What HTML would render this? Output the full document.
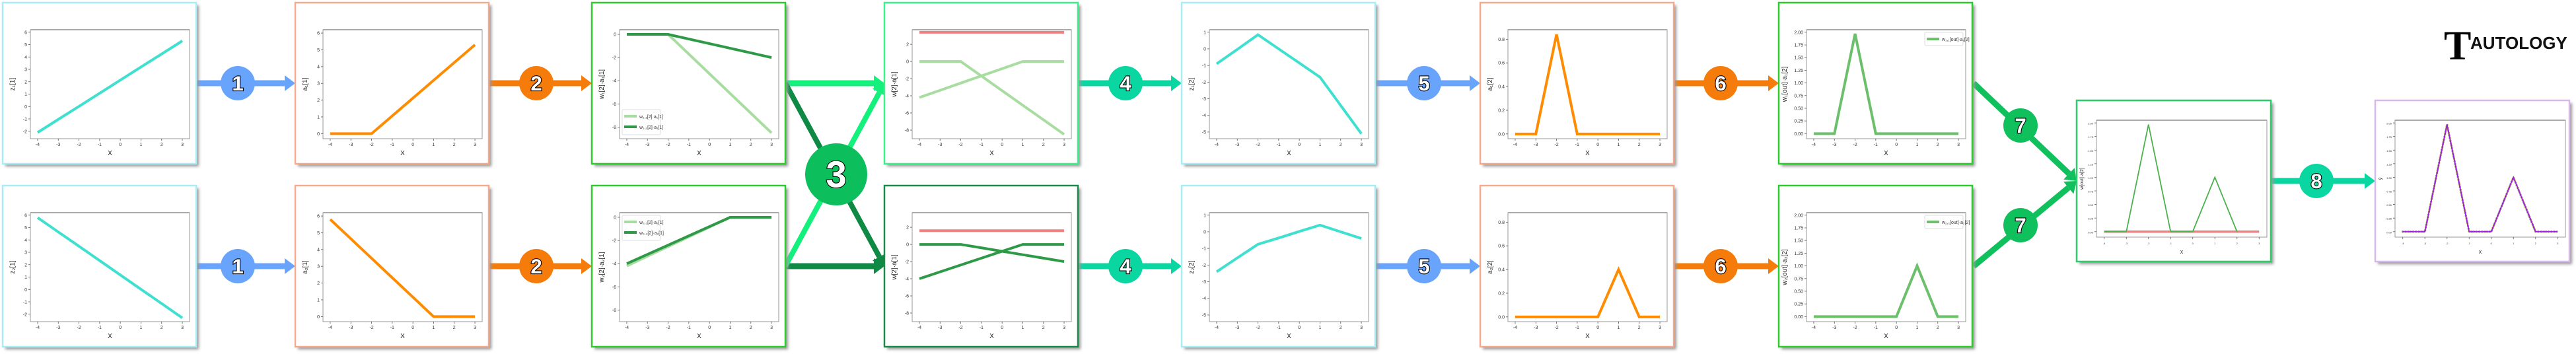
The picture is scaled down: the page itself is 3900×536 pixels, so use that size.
<!DOCTYPE html>
<html><head><meta charset="utf-8">
<style>
html,body{margin:0;padding:0;background:#fff;}
svg{display:block;font-family:"Liberation Sans",sans-serif;}
</style></head>
<body>
<svg id="root" width="3900" height="536" viewBox="0 0 3900 536" xmlns="http://www.w3.org/2000/svg">
<defs>
<filter id="sh" x="-5%" y="-5%" width="115%" height="115%"><feGaussianBlur stdDeviation="2"/></filter>
</defs>
<g id="links"></g>
<g id="panels"></g>
<g id="badges"></g>
<g id="logo" transform="translate(3700,40)">
<text x="0" y="50" font-family="Liberation Serif,serif" font-size="62" font-weight="bold" fill="#000">T</text>
<text x="40" y="34" font-size="26" font-weight="bold" fill="#111">AUTOLOGY</text>
</g>
</svg>
<script>
// ---------- data ----------
const xs = [-4,-3,-2,-1,0,1,2,3];
const xTickLabels = ["-4","-3","-2","-1","0","1","2","3"];
const z1Top = [-2.1,-1.04,0.01,1.07,2.13,3.19,4.24,5.3];
const z1Bot = [5.8,4.64,3.49,2.33,1.17,0.01,-1.14,-2.3];
const a1Top = [0,0,0,1.06,2.12,3.18,4.24,5.3];
const a1Bot = [5.8,4.64,3.48,2.32,1.16,0,0,0];
const w1LightTop = [0,0,0,-1.7,-3.4,-5.1,-6.8,-8.5];
const w1DarkTop = [0,0,0,-0.4,-0.8,-1.2,-1.6,-2.0];
const w2LightBot = [-4.2,-3.36,-2.52,-1.68,-0.84,0,0,0];
const w2DarkBot = [-4.0,-3.2,-2.4,-1.6,-0.8,0,0,0];
const biasTop = 3.4;
const biasBot = 1.6;
const z2Top = [-0.9,-0.03,0.85,0.0,-0.85,-1.7,-3.4,-5.1];
const z2Bot = [-2.4,-1.57,-0.75,-0.37,0.02,0.4,0.0,-0.4];
const a2Top = [0,0,0.84,0,0,0,0,0];
const a2Bot = [0,0,0,0,0,0.4,0,0];
const outTop = [0,0,1.97,0,0,0,0,0];
const outBot = [0,0,0,0,0,1.0,0,0];
const sumOut = [0,0,1.97,0,0,1.0,0];
const sumXs = [-4,-3,-2,-1,0,1,2];
const zeroLine = [0,0];
const zeroXs = [-4,3];
const pred = [0,0,1.97,0,0,1.0,0,0];

const yT_z1 = [-2,-1,0,1,2,3,4,5,6];
const yT_a1 = [0,1,2,3,4,5,6];
const yT_w = [0,-2,-4,-6,-8];
const yT_w4 = [2,0,-2,-4,-6,-8];
const yT_z2 = [1,0,-1,-2,-3,-4,-5];
const yT_a2 = [0,0.2,0.4,0.6,0.8];
const yT_a2L = ["0.0","0.2","0.4","0.6","0.8"];
const yT_o = [0,0.25,0.5,0.75,1,1.25,1.5,1.75,2];
const yT_oL = ["0.00","0.25","0.50","0.75","1.00","1.25","1.50","1.75","2.00"];

// ---------- helpers ----------
const NS="http://www.w3.org/2000/svg";
function mk(tag,attrs,parent){const e=document.createElementNS(NS,tag);for(const k in attrs)e.setAttribute(k,attrs[k]);if(parent)parent.appendChild(e);return e;}
const panels=document.getElementById('panels');
const links=document.getElementById('links');
const badges=document.getElementById('badges');

function panel(name,px,py,w,h,border,o){
  const g=mk('g',{},panels);
  
  
  const s=mk('rect',{x:px+4,y:py+4,width:w,height:h,fill:'#9a9a9a',filter:'url(#sh)'},g);
  
  
  const r=mk('rect',{x:px,y:py,width:w,height:h,fill:'#fff',stroke:border,'stroke-width':2.5},g);
  
  
  const L=px+(o.l||42),R=px+w-(o.r||10),T=py+(o.t||41),B=py+h-(o.b||38);
  const xmin=-4.35,xmax=3.35;
  const [ymin,ymax]=o.ylim;
  const sx=v=>L+(v-xmin)/(xmax-xmin)*(R-L);
  const sy=v=>B-(v-ymin)/(ymax-ymin)*(B-T);
  const fs=o.fs||7;
  const ax=mk('rect',{x:L,y:T,width:R-L,height:B-T,fill:'none',stroke:'#999','stroke-width':1},g);
  
  
  const tl=mk('line',{x1:L,y1:T,x2:R,y2:T,stroke:'#aaa','stroke-width':2},g);
  
  
  xs.forEach((v,i)=>{
    mk('line',{x1:sx(v),y1:B,x2:sx(v),y2:B+3,stroke:'#555','stroke-width':0.8},g);
    const t=mk('text',{x:sx(v),y:B+11,'font-size':fs,'text-anchor':'middle',fill:'#333'},g);
    t.textContent=xTickLabels[i];
    
    
  });
  o.yt.forEach((v,i)=>{
    mk('line',{x1:L-3,y1:sy(v),x2:L,y2:sy(v),stroke:'#555','stroke-width':0.8},g);
    const t=mk('text',{x:L-5,y:sy(v)+2.5,'font-size':fs,'text-anchor':'end',fill:'#333'},g);
    t.textContent=o.ytl?o.ytl[i]:String(v);
    
    
  });
  const xl=mk('text',{x:(L+R)/2,y:B+25,'font-size':fs+3,'text-anchor':'middle',fill:'#222'},g);
  xl.textContent='X';
  
  
  if(o.ylab){
    const yl=mk('text',{x:0,y:0,'font-size':fs+3,'text-anchor':'middle',fill:'#222',transform:`translate(${L-(o.ylo||24)},${(T+B)/2}) rotate(-90)`},g);
    yl.textContent=o.ylab;
    
    
  }
  o.series.forEach(se=>{
    const xv=se.x||xs;
    const pts=se.y.map((v,i)=>sx(xv[i])+','+sy(v)).join(' ');
    const p=mk('polyline',{points:pts,fill:'none',stroke:se.c,'stroke-width':se.w||4,'stroke-linejoin':'miter','stroke-linecap':se.cap||'butt'},g);
    if(se.dash)p.setAttribute('stroke-dasharray',se.dash);
    
    
  });
  if(o.legend){
    const lg=o.legend;
    const lx=lg.right?R-lg.w-4:L+4, ly=lg.bottom?B-lg.h-6:T+4;
    const lgG=mk('g',{},g);
    
    
    mk('rect',{x:lx,y:ly,width:lg.w,height:lg.h,fill:'#fff',stroke:'#ddd','stroke-width':1,rx:2},lgG);
    lg.items.forEach((it,i)=>{
      const yy=ly+10+i*16;
      mk('line',{x1:lx+3,y1:yy,x2:lx+22,y2:yy,stroke:it.c,'stroke-width':4},lgG);
      const t=mk('text',{x:lx+26,y:yy+3,'font-size':7,fill:'#333'},lgG);
      t.textContent=it.t;
      
      
    });
  }
}

const W=293,H=244, TOPY=4, BOTY=281;
const cols=[4,447,896,1339,1789,2241,2693];
const cyan='#3fe0cf', orange='#ff8c00', lg='#a8dca0', dg='#2e9a48', red='#ef8080', mg='#6cc06c';

panel('z1-layer1-chart',cols[0],TOPY,W,H,'#a8ecf5',{ylim:[-2.6,6.2],yt:yT_z1,ylab:'z₁[1]',series:[{y:z1Top,c:cyan,name:'z1-line'}]});
panel('z2-layer1-chart',cols[0],BOTY,W,H,'#a8ecf5',{ylim:[-2.6,6.2],yt:yT_z1,ylab:'z₂[1]',series:[{y:z1Bot,c:cyan,name:'z2-line'}]});
panel('a1-layer1-chart',cols[1],TOPY,W,H,'#f5aa90',{ylim:[-0.3,6.2],yt:yT_a1,ylab:'a₁[1]',series:[{y:a1Top,c:orange,name:'a1-line'}]});
panel('a2-layer1-chart',cols[1],BOTY,W,H,'#f5aa90',{ylim:[-0.3,6.2],yt:yT_a1,ylab:'a₂[1]',series:[{y:a1Bot,c:orange,name:'a2-line'}]});
panel('weighted-a1-chart',cols[2],TOPY,W,H,'#2ccc2c',{ylim:[-9.0,0.4],yt:yT_w,ylab:'w₁[2]·a₁[1]',series:[{y:w1LightTop,c:lg,name:'w11-a1-line'},{y:w1DarkTop,c:dg,name:'w12-a1-line'}],legend:{bottom:true,w:58,h:38,items:[{c:lg,t:'w₁,₁[2]·a₁[1]'},{c:dg,t:'w₁,₂[2]·a₁[1]'}]}});
panel('weighted-a2-chart',cols[2],BOTY,W,H,'#2ccc2c',{ylim:[-9.0,0.4],yt:yT_w,ylab:'w₂[2]·a₂[1]',series:[{y:w2LightBot,c:lg,name:'w21-a2-line'},{y:w2DarkBot,c:dg,name:'w22-a2-line'}],legend:{w:58,h:38,items:[{c:lg,t:'w₂,₁[2]·a₂[1]'},{c:dg,t:'w₂,₂[2]·a₂[1]'}]}});
panel('sum-node1-chart',cols[3],TOPY,W,H,'#3cf08c',{ylim:[-9.0,3.7],yt:yT_w4,ylab:'w[2]·a[1]',series:[{x:zeroXs,y:[biasTop,biasTop],c:red,name:'bias-line'},{y:w1LightTop,c:lg,name:'w11-a1-line'},{y:w2LightBot,c:lg,name:'w21-a2-line'}]});
panel('sum-node2-chart',cols[3],BOTY,W,H,'#1a8a48',{ylim:[-9.0,3.7],yt:yT_w4,ylab:'w[2]·a[1]',series:[{x:zeroXs,y:[biasBot,biasBot],c:red,name:'bias-line'},{y:w1DarkTop,c:dg,name:'w12-a1-line'},{y:w2DarkBot,c:dg,name:'w22-a2-line'}]});
panel('z1-layer2-chart',cols[4],TOPY,W,H,'#a8ecf5',{ylim:[-5.4,1.15],yt:yT_z2,ylab:'z₁[2]',series:[{y:z2Top,c:cyan,name:'z1-l2-line'}]});
panel('z2-layer2-chart',cols[4],BOTY,W,H,'#a8ecf5',{ylim:[-5.4,1.15],yt:yT_z2,ylab:'z₂[2]',series:[{y:z2Bot,c:cyan,name:'z2-l2-line'}]});
panel('a1-layer2-chart',cols[5],TOPY,W,H,'#f5aa90',{ylim:[-0.04,0.88],yt:yT_a2,ytl:yT_a2L,ylab:'a₁[2]',series:[{y:a2Top,c:orange,name:'a1-l2-line'}]});
panel('a2-layer2-chart',cols[5],BOTY,W,H,'#f5aa90',{ylim:[-0.04,0.88],yt:yT_a2,ytl:yT_a2L,ylab:'a₂[2]',series:[{y:a2Bot,c:orange,name:'a2-l2-line'}]});
panel('out-weighted-a1-chart',cols[6],TOPY,W,H,'#2ccc2c',{ylim:[-0.1,2.05],yt:yT_o,ytl:yT_oL,ylab:'w₁[out]·a₁[2]',ylo:30,series:[{y:outTop,c:mg,name:'out1-line'}],legend:{right:true,w:58,h:20,items:[{c:mg,t:'w₁,₁[out]·a₁[2]'}]}});
panel('out-weighted-a2-chart',cols[6],BOTY,W,H,'#2ccc2c',{ylim:[-0.1,2.05],yt:yT_o,ytl:yT_oL,ylab:'w₂[out]·a₂[2]',ylo:30,series:[{y:outBot,c:mg,name:'out2-line'}],legend:{right:true,w:58,h:20,items:[{c:mg,t:'w₂,₁[out]·a₂[2]'}]}});
panel('output-sum-chart',3144,152,294,244,'#2ccc6a',{l:30,r:6,t:30,b:37,fs:4,ylim:[-0.1,2.05],yt:yT_o,ytl:yT_oL,ylab:'w[out]·a[2]',ylo:20,series:[{x:zeroXs,y:zeroLine,c:red,w:3.5,name:'output-bias-line'},{x:sumXs,y:sumOut,c:'#4cb04c',w:1.8,name:'output-sum-line'}]});
panel('prediction-chart',3596,152,294,244,'#d8b8e8',{l:30,r:6,t:30,b:37,fs:4,ylim:[-0.1,2.05],yt:yT_o,ytl:yT_oL,ylab:'ŷ',ylo:20,series:[{y:pred,c:'#b8b840',w:3.5,dash:'0 4',cap:'round',name:'target-dots'},{y:pred,c:'#5a7878',w:2.6,dash:'0 5',cap:'round',name:'data-dots'},{y:pred,c:'#a020e0',w:1.8,name:'prediction-line'}]});

// ---------- connectors ----------
function arrow(name,x1,y1,x2,y2,color,th,head){
  const g=mk('g',{},links);
  
  
  const dx=x2-x1,dy=y2-y1,len=Math.hypot(dx,dy),ux=dx/len,uy=dy/len;
  const hl=head?16:0;
  mk('line',{x1:x1,y1:y1,x2:x2-ux*hl,y2:y2-uy*hl,stroke:color,'stroke-width':th},g);
  if(head){
    const bx=x2-ux*hl,by=y2-uy*hl,nx=-uy,ny=ux,hw=12;
    mk('polygon',{points:`${x2},${y2} ${bx+nx*hw},${by+ny*hw} ${bx-nx*hw},${by-ny*hw}`,fill:color},g);
  }
}
const blue='#68a3fc', org='#f57c0a', teal='#0ad6a2', bg='#14f07c', dk='#0e8a44', g7='#10c05c';
[126,403].forEach((y,k)=>{
  arrow('arrow-1',cols[0]+W,y,cols[1],y,blue,9,true);
  arrow('arrow-2',cols[1]+W,y,cols[2],y,org,9,true);
  arrow('arrow-4',cols[3]+W,y,cols[4],y,teal,9,true);
  arrow('arrow-5',cols[4]+W,y,cols[5],y,blue,9,true);
  arrow('arrow-6',cols[5]+W,y,cols[6],y,org,9,true);
});
arrow('arrow-3-top-straight',cols[2]+W,126,cols[3],126,bg,9,true);
arrow('arrow-3-bottom-straight',cols[2]+W,403,cols[3],403,dk,9,true);
arrow('arrow-3-top-cross',cols[2]+W,126,cols[3],403,dk,8,true);
arrow('arrow-3-bottom-cross',cols[2]+W,403,cols[3],126,bg,8,true);
arrow('arrow-7-top',2988,126,3144,274,g7,9,true);
arrow('arrow-7-bottom',2988,403,3144,274,g7,9,true);
arrow('arrow-8',3438,274,3596,274,teal,9,true);

// ---------- badges ----------
function badge(label,cx,cy,r,color){
  const g=mk('g',{},badges);
  
  
  mk('circle',{cx:cx,cy:cy,r:r,fill:color},g);
  const t=mk('text',{x:cx,y:cy+r*0.42,'text-anchor':'middle','font-size':r*1.2,'font-weight':'bold',fill:'#fff',stroke:'#000','stroke-width':2.2,'paint-order':'stroke'},g);
  t.textContent=label;
}
[126,403].forEach(y=>{
  badge('1',360,y,26,blue);
  badge('2',812,y,26,org);
  badge('4',1704,y,26,teal);
  badge('5',2156,y,26,blue);
  badge('6',2605,y,26,org);
});
badge('3',1266,264,47,'#0dbf5c');
badge('7',3059,190,26,g7);
badge('7',3059,341,26,g7);
badge('8',3507,274,26,teal);
</script>
</body></html>
